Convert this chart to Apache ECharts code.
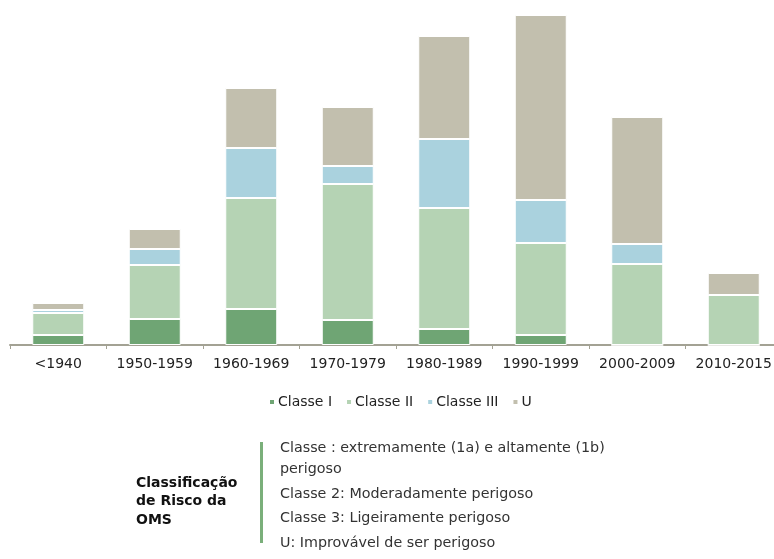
<!DOCTYPE html>
<html>
<head>
<meta charset="utf-8">
<script src="https://cdn.jsdelivr.net/npm/echarts@6/dist/echarts.min.js"></script>
<style>
  html, body { margin: 0; padding: 0; background: #fff; }
  #chart { width: 774px; height: 559px; }
</style>
</head>
<body>
<div id="chart"></div>
<script>
// decades on the x axis
let decades = ['<1940', '1950-1959', '1960-1969', '1970-1979', '1980-1989', '1990-1999', '2000-2009', '2010-2015'];
// stacked values (no scale shown, relative units)
let classeI   = [10, 26, 36, 25, 16, 10, 0, 0];
let classeII  = [22, 54, 111, 136, 121, 92, 81, 50];
let classeIII = [3, 16, 50, 18, 69, 43, 20, 0];
let classeU   = [7, 20, 60, 59, 103, 185, 127, 22];

let seriesNames = ['Classe I', 'Classe II', 'Classe III', 'U'];
let seriesColors = ['#6fa574', '#b5d3b4', '#aad2de', '#c2bfae'];

let notes = [
    'Classe : extremamente (1a) e altamente (1b)',
    'perigoso',
    'Classe 2: Moderadamente perigoso',
    'Classe 3: Ligeiramente perigoso',
    'U: Improvável de ser perigoso'
];
let noteY = [450, 471, 496, 520, 545];

let font = 'DejaVu Sans, Liberation Sans, sans-serif';

function getOption() {
    let option = {
        animation: false,
        textStyle: { fontFamily: font },
        grid: { left: 10, top: 14, width: 772, height: 331, outerBoundsMode: 'none', containLabel: false },
        xAxis: {
            type: 'category',
            data: decades,
            axisLine: { lineStyle: { color: '#a3a294', width: 2 } },
            axisTick: { show: true, length: 4, lineStyle: { color: '#a3a294' } },
            axisLabel: { color: '#222', fontSize: 14, margin: 12, interval: 0, hideOverlap: false }
        },
        yAxis: {
            type: 'value',
            min: 0,
            max: 331,
            show: false,
            splitLine: { show: false }
        },
        legend: {
            left: 263,
            top: 390,
            itemWidth: 6,
            itemHeight: 6,
            itemGap: 13,
            icon: 'rect',
            textStyle: { color: '#222', fontSize: 14, padding: [0, 0, 0, -2] },
            data: seriesNames
        },
        series: []
    };
    let data = [classeI, classeII, classeIII, classeU];
    for (let i = 0; i < seriesNames.length; ++i) {
        option.series.push({
            name: seriesNames[i],
            type: 'bar',
            stack: 'total',
            barWidth: 52,
            data: data[i],
            itemStyle: { color: seriesColors[i], borderColor: '#fff', borderWidth: 1 }
        });
    }
    let graphic = [
        { type: 'rect', shape: { x: 260, y: 442, width: 3, height: 101 }, style: { fill: '#7aaf7a' } },
        {
            type: 'text', left: 136, top: 474,
            style: {
                text: 'Classificação\nde Risco da\nOMS',
                font: 'bold 14px ' + font,
                fill: '#111', lineHeight: 18.5
            }
        }
    ];
    for (let i = 0; i < notes.length; ++i) {
        graphic.push({
            type: 'text', left: 280, top: noteY[i] - 9,
            style: { text: notes[i], font: '14.3px ' + font, fill: '#333' }
        });
    }
    option.graphic = graphic;
    return option;
}

let myChart = echarts.init(document.getElementById('chart'));
myChart.setOption(getOption());
</script>
</body>
</html>
